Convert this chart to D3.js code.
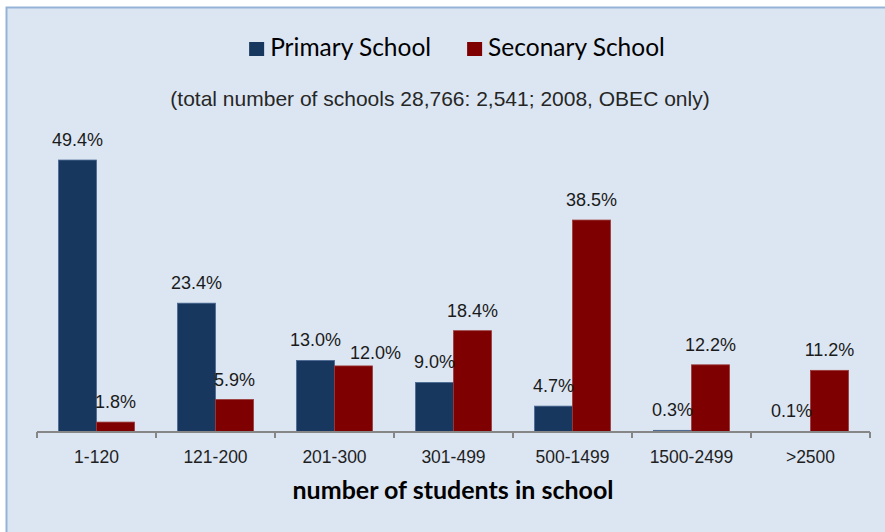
<!DOCTYPE html>
<html>
<head>
<meta charset="utf-8">
<script src="https://cdn.jsdelivr.net/npm/d3@7"></script>
<style>
  html, body { margin: 0; padding: 0; background: #ffffff; }
  svg { display: block; }
</style>
</head>
<body>
<svg id="chart" width="885" height="532"></svg>
<script>
// School-size distribution, primary vs secondary (OBEC, 2008)
const categories = ["1-120", "121-200", "201-300", "301-499", "500-1499", "1500-2499", ">2500"];
const seriesNames = ["Primary School", "Seconary School"];
const primaryValues = [49.4, 23.4, 13.0, 9.0, 4.7, 0.3, 0.1];
const secondaryValues = [1.8, 5.9, 12.0, 18.4, 38.5, 12.2, 11.2];
const seriesColors = ["#17375e", "#7f0000"];
const seriesEdges = ["#4a6894", "#9a3a3a"];
const subtitle = "(total number of schools 28,766: 2,541; 2008, OBEC only)";
const xTitle = "number of students in school";

const svg = d3.select("#chart");
const W = 885, H = 532;

// chart panel
svg.append("rect")
  .attr("x", 6.5).attr("y", 7.5)
  .attr("width", W + 10).attr("height", H + 10)
  .attr("fill", "#dce6f2")
  .attr("stroke", "#95b3d7")
  .attr("stroke-width", 2);

const plot = { left: 37, right: 870, bottom: 432 };

const x = d3.scaleBand().domain(categories).range([plot.left, plot.right]).padding(0);
const xs = d3.scaleBand().domain(seriesNames).range([0, x.bandwidth()])
  .paddingInner(0).paddingOuter(0.566);
const y = d3.scaleLinear().domain([0, 55]).range([plot.bottom, 129.2]);

const rows = categories.map((c, i) => ({ cat: c, values: [primaryValues[i], secondaryValues[i]] }));

// bars
const groups = svg.append("g").selectAll("g").data(rows).join("g")
  .attr("transform", d => `translate(${x(d.cat)},0)`);

groups.selectAll("rect").data(d => d.values.map((v, k) => ({ v, k, name: seriesNames[k] })))
  .join("rect")
  .attr("x", d => xs(d.name))
  .attr("y", d => y(d.v))
  .attr("width", xs.bandwidth())
  .attr("height", d => plot.bottom - y(d.v))
  .attr("fill", d => seriesColors[d.k])
  .attr("stroke", d => seriesEdges[d.k])
  .attr("stroke-width", 0.8);

// x axis
const axis = svg.append("g")
  .attr("transform", `translate(0,${plot.bottom})`)
  .call(d3.axisBottom(x).tickSize(0).tickPadding(0).tickFormat(""));
axis.select(".domain").remove();
axis.append("line")
  .attr("x1", plot.left).attr("x2", plot.right)
  .attr("y1", 0).attr("y2", 0)
  .attr("stroke", "#868686").attr("stroke-width", 2);
// boundary ticks between categories
const bounds = categories.map(c => x(c)).concat([plot.right]);
axis.selectAll(".bound").data(bounds).join("line")
  .attr("class", "bound")
  .attr("x1", d => d).attr("x2", d => d)
  .attr("y1", 0).attr("y2", 6)
  .attr("stroke", "#868686").attr("stroke-width", 2);

svg.append("g").selectAll("text").data(categories).join("text")
  .attr("x", d => x(d) + x.bandwidth() / 2)
  .attr("y", 463)
  .attr("text-anchor", "middle")
  .attr("font-family", "'Liberation Sans', Arial, sans-serif")
  .attr("font-size", 17.5)
  .attr("fill", "#1f1f1f")
  .text(d => d);

// value labels
const labelLayer = svg.append("g")
  .attr("font-family", "'Liberation Sans', Arial, sans-serif")
  .attr("font-size", 18)
  .attr("fill", "#1a1a1a")
  .attr("text-anchor", "middle");

rows.forEach(r => {
  const placed = [];
  r.values.forEach((v, k) => {
    const cx = x(r.cat) + xs(seriesNames[k]) + xs.bandwidth() / 2;
    const t = labelLayer.append("text")
      .attr("x", cx)
      .attr("y", y(v) - 14)
      .text(v.toFixed(1) + "%");
    let b = t.node().getBBox();
    // nudge a label that would collide with its neighbour
    placed.forEach(p => {
      const overlapX = Math.min(b.x + b.width, p.x + p.width) - Math.max(b.x, p.x);
      const overlapY = Math.min(b.y + b.height, p.y + p.height) - Math.max(b.y, p.y);
      if (overlapX > -8 && overlapY > 0) {
        const shift = (p.x + p.width + 9) - b.x;
        t.attr("x", cx + shift).attr("y", y(v) - 7);
        b = t.node().getBBox();
      }
    });
    placed.push(b);
  });
});

// x axis title
svg.append("text")
  .attr("x", 453)
  .attr("y", 499)
  .attr("text-anchor", "middle")
  .attr("font-family", "Lato, 'Open Sans', sans-serif")
  .attr("font-weight", "bold")
  .attr("font-size", 25)
  .attr("fill", "#000000")
  .text(xTitle);

// subtitle
svg.append("text")
  .attr("x", 440)
  .attr("y", 106)
  .attr("text-anchor", "middle")
  .attr("font-family", "'Liberation Sans', Arial, sans-serif")
  .attr("font-size", 21)
  .attr("fill", "#262626")
  .text(subtitle);

// legend
const legend = svg.append("g");
const items = legend.selectAll("g").data(seriesNames).join("g");
items.append("rect")
  .attr("width", 15).attr("height", 14)
  .attr("y", 42)
  .attr("fill", (d, i) => seriesColors[i]);
items.append("text")
  .attr("x", 21).attr("y", 56)
  .attr("font-family", "Lato, 'Open Sans', sans-serif")
  .attr("font-size", 24.5)
  .attr("fill", "#000000")
  .text(d => d);
let cursor = 0;
const offsets = [];
items.each(function (d, i) {
  offsets.push(cursor);
  cursor += 21 + this.querySelector("text").getComputedTextLength() + (i < seriesNames.length - 1 ? 36 : 0);
});
const legendStart = 457 - cursor / 2;
items.attr("transform", (d, i) => `translate(${legendStart + offsets[i]},0)`);
</script>
</body>
</html>
